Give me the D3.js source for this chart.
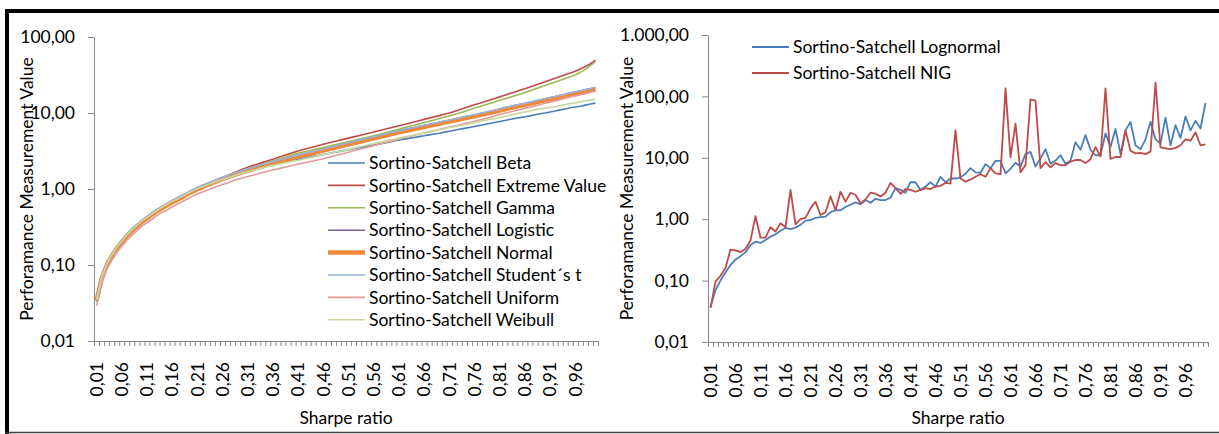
<!DOCTYPE html>
<html>
<head>
<meta charset="utf-8">
<title>Sortino-Satchell</title>
<script src="https://cdnjs.cloudflare.com/ajax/libs/d3/7.8.5/d3.min.js"></script>
<style>
  body { margin: 0; background: #fff; }
  svg text { font-family: Lato, "Open Sans", sans-serif; fill: #000; }
</style>
</head>
<body>
<script>
var categories = [0.01, 0.02, 0.03, 0.04, 0.05, 0.06, 0.07, 0.08, 0.09, 0.10,
  0.11, 0.12, 0.13, 0.14, 0.15, 0.16, 0.17, 0.18, 0.19, 0.20,
  0.21, 0.22, 0.23, 0.24, 0.25, 0.26, 0.27, 0.28, 0.29, 0.30,
  0.31, 0.32, 0.33, 0.34, 0.35, 0.36, 0.37, 0.38, 0.39, 0.40,
  0.41, 0.42, 0.43, 0.44, 0.45, 0.46, 0.47, 0.48, 0.49, 0.50,
  0.51, 0.52, 0.53, 0.54, 0.55, 0.56, 0.57, 0.58, 0.59, 0.60,
  0.61, 0.62, 0.63, 0.64, 0.65, 0.66, 0.67, 0.68, 0.69, 0.70,
  0.71, 0.72, 0.73, 0.74, 0.75, 0.76, 0.77, 0.78, 0.79, 0.80,
  0.81, 0.82, 0.83, 0.84, 0.85, 0.86, 0.87, 0.88, 0.89, 0.90,
  0.91, 0.92, 0.93, 0.94, 0.95, 0.96, 0.97, 0.98, 0.99, 1.00];

// every 5th category gets a label (0,01 0,06 ... 0,96)
var labelStep = 5;
var leftYTicks = [0.01, 0.1, 1, 10, 100];
var rightYTicks = [0.01, 0.1, 1, 10, 100, 1000];

var beta = [0.033, 0.065, 0.097, 0.129, 0.163, 0.20, 0.24, 0.28, 0.32, 0.36,
  0.41, 0.45, 0.50, 0.55, 0.60, 0.66, 0.71, 0.77, 0.84, 0.91,
  0.97, 1.04, 1.10, 1.17, 1.24, 1.32, 1.38, 1.46, 1.53, 1.61,
  1.69, 1.76, 1.83, 1.91, 1.99, 2.07, 2.14, 2.22, 2.30, 2.38,
  2.46, 2.53, 2.61, 2.69, 2.76, 2.85, 2.93, 3.02, 3.10, 3.20,
  3.29, 3.39, 3.49, 3.58, 3.69, 3.79, 3.90, 4.01, 4.12, 4.30,
  4.42, 4.53, 4.64, 4.76, 4.89, 5.01, 5.15, 5.28, 5.42, 5.60,
  5.76, 5.93, 6.10, 6.28, 6.46, 6.65, 6.85, 7.05, 7.26, 7.49,
  7.73, 7.98, 8.21, 8.45, 8.69, 8.92, 9.17, 9.48, 9.77, 10.0,
  10.3, 10.6, 11.0, 11.3, 11.7, 12.0, 12.3, 12.7, 13.1, 13.5];

var extremeValue = [0.034, 0.067, 0.10, 0.134, 0.17, 0.21, 0.25, 0.29, 0.335, 0.385,
  0.43, 0.48, 0.535, 0.59, 0.64, 0.70, 0.76, 0.82, 0.89, 0.97,
  1.04, 1.11, 1.18, 1.26, 1.34, 1.42, 1.51, 1.61, 1.71, 1.82,
  1.93, 2.03, 2.13, 2.24, 2.35, 2.47, 2.60, 2.73, 2.87, 3.01,
  3.16, 3.30, 3.43, 3.58, 3.73, 3.89, 4.03, 4.18, 4.34, 4.50,
  4.67, 4.85, 5.03, 5.22, 5.41, 5.62, 5.84, 6.07, 6.30, 6.55,
  6.80, 7.07, 7.34, 7.63, 7.93, 8.24, 8.56, 8.89, 9.24, 9.60,
  10.0, 10.5, 11.0, 11.6, 12.2, 12.8, 13.4, 14.1, 14.8, 15.5,
  16.3, 17.1, 18.0, 18.9, 19.9, 20.9, 22.0, 23.2, 24.5, 25.8,
  27.2, 28.7, 30.2, 31.8, 33.6, 35.4, 38.0, 40.8, 44.5, 49.5];

var gamma = [0.035, 0.068, 0.10, 0.133, 0.169, 0.205, 0.245, 0.286, 0.33, 0.38,
  0.42, 0.47, 0.52, 0.575, 0.63, 0.69, 0.74, 0.80, 0.87, 0.94,
  1.02, 1.08, 1.15, 1.22, 1.30, 1.38, 1.46, 1.55, 1.65, 1.75,
  1.86, 1.95, 2.04, 2.14, 2.24, 2.34, 2.45, 2.57, 2.69, 2.82,
  2.95, 3.06, 3.17, 3.28, 3.40, 3.52, 3.65, 3.78, 3.91, 4.05,
  4.20, 4.35, 4.51, 4.67, 4.84, 5.01, 5.22, 5.43, 5.65, 5.88,
  6.12, 6.37, 6.63, 6.90, 7.19, 7.48, 7.79, 8.11, 8.44, 8.79,
  9.12, 9.57, 10.0, 10.5, 11.0, 11.6, 12.1, 12.7, 13.3, 14.0,
  14.7, 15.4, 16.1, 16.9, 17.7, 18.6, 19.6, 20.7, 21.8, 23.0,
  24.2, 25.5, 26.9, 28.4, 29.9, 31.6, 34.3, 37.5, 42.0, 47.5];

var logistic = [0.035, 0.069, 0.102, 0.136, 0.171, 0.21, 0.25, 0.29, 0.34, 0.38,
  0.43, 0.48, 0.53, 0.58, 0.64, 0.69, 0.75, 0.82, 0.88, 0.95,
  1.03, 1.11, 1.17, 1.25, 1.34, 1.41, 1.49, 1.58, 1.65, 1.74,
  1.83, 1.90, 1.99, 2.09, 2.17, 2.27, 2.37, 2.45, 2.56, 2.67,
  2.78, 2.88, 2.99, 3.10, 3.22, 3.33, 3.47, 3.59, 3.74, 3.86,
  4.02, 4.17, 4.32, 4.49, 4.64, 4.83, 5.00, 5.18, 5.39, 5.58,
  5.80, 5.97, 6.18, 6.39, 6.59, 6.82, 7.04, 7.26, 7.52, 7.75,
  8.03, 8.27, 8.55, 8.84, 9.11, 9.43, 9.75, 10.1, 10.4, 10.8,
  11.2, 11.7, 12.0, 12.5, 12.9, 13.3, 13.7, 14.3, 14.7, 15.3,
  15.8, 16.3, 17.0, 17.5, 18.2, 18.8, 19.5, 20.0, 20.8, 21.5];

var normal = [0.034, 0.066, 0.098, 0.13, 0.165, 0.20, 0.24, 0.28, 0.32, 0.37,
  0.41, 0.46, 0.51, 0.56, 0.61, 0.67, 0.72, 0.78, 0.85, 0.92,
  0.99, 1.06, 1.13, 1.20, 1.28, 1.36, 1.43, 1.51, 1.59, 1.67,
  1.75, 1.83, 1.91, 2.00, 2.09, 2.18, 2.27, 2.36, 2.46, 2.56,
  2.67, 2.77, 2.87, 2.98, 3.09, 3.21, 3.33, 3.46, 3.59, 3.72,
  3.86, 4.01, 4.16, 4.31, 4.47, 4.64, 4.81, 4.99, 5.18, 5.37,
  5.57, 5.75, 5.94, 6.14, 6.34, 6.55, 6.77, 6.99, 7.22, 7.46,
  7.71, 7.96, 8.22, 8.49, 8.77, 9.06, 9.38, 9.71, 10.05, 10.4,
  10.8, 11.2, 11.6, 12.0, 12.4, 12.8, 13.2, 13.7, 14.2, 14.7,
  15.2, 15.7, 16.3, 16.9, 17.5, 18.1, 18.7, 19.3, 20.0, 20.7];

var studentT = [0.036, 0.070, 0.103, 0.137, 0.173, 0.21, 0.25, 0.30, 0.34, 0.39,
  0.43, 0.48, 0.54, 0.59, 0.64, 0.70, 0.76, 0.82, 0.89, 0.97,
  1.04, 1.11, 1.19, 1.26, 1.34, 1.43, 1.50, 1.59, 1.67, 1.75,
  1.84, 1.92, 2.01, 2.10, 2.19, 2.29, 2.38, 2.48, 2.58, 2.69,
  2.80, 2.91, 3.01, 3.13, 3.24, 3.37, 3.50, 3.63, 3.77, 3.91,
  4.05, 4.21, 4.37, 4.53, 4.69, 4.87, 5.05, 5.24, 5.44, 5.64,
  5.85, 6.04, 6.24, 6.45, 6.66, 6.88, 7.11, 7.34, 7.58, 7.83,
  8.10, 8.36, 8.63, 8.91, 9.21, 9.51, 9.85, 10.2, 10.6, 10.9,
  11.3, 11.8, 12.2, 12.6, 13.0, 13.4, 13.9, 14.4, 14.9, 15.4,
  16.0, 16.5, 17.1, 17.7, 18.4, 19.0, 19.6, 20.3, 21.0, 21.8];

var uniform = [0.029, 0.057, 0.086, 0.114, 0.145, 0.176, 0.21, 0.245, 0.28, 0.325,
  0.36, 0.40, 0.45, 0.49, 0.53, 0.58, 0.63, 0.68, 0.74, 0.80,
  0.86, 0.91, 0.97, 1.02, 1.09, 1.15, 1.20, 1.27, 1.34, 1.40,
  1.46, 1.52, 1.58, 1.65, 1.71, 1.78, 1.84, 1.91, 1.98, 2.05,
  2.13, 2.19, 2.26, 2.34, 2.42, 2.50, 2.60, 2.71, 2.82, 2.93,
  3.05, 3.18, 3.30, 3.43, 3.57, 3.72, 3.86, 4.02, 4.19, 4.36,
  4.55, 4.72, 4.89, 5.07, 5.25, 5.44, 5.64, 5.84, 6.06, 6.28,
  6.51, 6.75, 7.00, 7.25, 7.52, 7.80, 8.10, 8.41, 8.73, 9.15,
  9.53, 9.91, 10.3, 10.7, 11.1, 11.5, 11.9, 12.4, 12.9, 13.4,
  13.9, 14.4, 15.0, 15.6, 16.2, 16.8, 17.4, 18.0, 18.7, 19.4];

var weibull = [0.035, 0.068, 0.101, 0.134, 0.17, 0.206, 0.247, 0.288, 0.33, 0.38,
  0.42, 0.47, 0.52, 0.58, 0.63, 0.69, 0.74, 0.80, 0.87, 0.94,
  1.01, 1.07, 1.14, 1.20, 1.27, 1.34, 1.40, 1.47, 1.55, 1.63,
  1.69, 1.76, 1.83, 1.90, 1.97, 2.04, 2.11, 2.18, 2.25, 2.33,
  2.39, 2.47, 2.55, 2.64, 2.73, 2.83, 2.92, 3.03, 3.12, 3.20,
  3.32, 3.44, 3.57, 3.69, 3.82, 3.96, 4.10, 4.25, 4.40, 4.51,
  4.67, 4.82, 4.98, 5.14, 5.30, 5.47, 5.65, 5.83, 6.02, 6.19,
  6.39, 6.59, 6.80, 7.02, 7.24, 7.47, 7.73, 7.99, 8.26, 8.42,
  8.73, 9.04, 9.36, 9.67, 9.98, 10.3, 10.6, 11.0, 11.3, 11.5,
  11.8, 12.1, 12.5, 12.9, 13.3, 13.6, 14.0, 14.4, 14.8, 15.2];

var lognormal = [0.037, 0.07, 0.10, 0.135, 0.18, 0.22, 0.25, 0.29, 0.38, 0.43,
  0.41, 0.46, 0.52, 0.57, 0.65, 0.72, 0.69, 0.73, 0.81, 0.95,
  0.97, 1.05, 1.08, 1.10, 1.30, 1.40, 1.40, 1.58, 1.72, 1.88,
  1.75, 2.05, 1.85, 2.15, 2.05, 2.05, 2.25, 3.2, 3.0, 2.7,
  4.0, 4.0, 3.0, 3.4, 4.0, 3.4, 4.9, 4.0, 4.6, 4.6,
  4.8, 5.5, 6.8, 5.8, 5.7, 7.9, 6.8, 8.9, 8.9, 5.6,
  6.6, 8.3, 7.2, 11.5, 12.5, 7.2, 9.8, 13.8, 8.0, 9.0,
  11.0, 8.0, 9.0, 18, 13.5, 23.5, 13.5, 11, 11, 25,
  15, 29.5, 11.5, 28, 38.5, 16, 13.8, 20, 38.5, 20,
  17, 45, 16, 34, 21, 47, 28, 40, 30, 78];

var nig = [0.036, 0.096, 0.12, 0.16, 0.32, 0.31, 0.29, 0.33, 0.45, 1.12,
  0.50, 0.50, 0.74, 0.63, 0.86, 0.74, 3.0, 0.83, 1.0, 1.05,
  1.5, 1.93, 1.17, 1.3, 2.35, 1.4, 2.8, 1.93, 2.7, 2.5,
  1.8, 2.1, 2.7, 2.6, 2.35, 2.7, 3.9, 3.2, 2.6, 3.1,
  3.0, 2.8, 3.0, 3.2, 3.1, 3.4, 3.5, 3.9, 3.8, 28,
  4.6, 4.1, 4.4, 4.9, 5.4, 4.9, 6.8, 5.6, 5.4, 135,
  10.2, 36, 5.8, 7.6, 89, 85, 6.8, 8.5, 7.0, 8.2,
  7.6, 7.6, 8.7, 9.2, 9.2, 8.2, 9.5, 15, 10.5, 135,
  9.6, 10.3, 10.3, 28, 13, 11.8, 12, 11.5, 12.6, 167,
  14.8, 14.3, 13.8, 14.5, 16, 20, 19, 26, 16, 16.5];

var leftSeries = [
  { name: "Sortino-Satchell Beta", values: beta, color: "#4a7ebb", width: 1.6 },
  { name: "Sortino-Satchell Extreme Value", values: extremeValue, color: "#be4b48", width: 1.6 },
  { name: "Sortino-Satchell Gamma", values: gamma, color: "#98b954", width: 1.6 },
  { name: "Sortino-Satchell Logistic", values: logistic, color: "#7d60a0", width: 1.6 },
  { name: "Sortino-Satchell Normal", values: normal, color: "#f0883c", width: 4.5 },
  { name: "Sortino-Satchell Student\u00b4s t", values: studentT, color: "#98b2da", width: 1.6 },
  { name: "Sortino-Satchell Uniform", values: uniform, color: "#e39a98", width: 1.6 },
  { name: "Sortino-Satchell Weibull", values: weibull, color: "#c5d9a0", width: 1.6 }
];
var rightSeries = [
  { name: "Sortino-Satchell Lognormal", values: lognormal, color: "#4a7ebb", width: 1.8 },
  { name: "Sortino-Satchell NIG", values: nig, color: "#be4b48", width: 1.8 }
];

var W = 1219, H = 434;
var fontSize = 17.5;
var svg = d3.select("body").append("svg").attr("width", W).attr("height", H);

var loc = d3.formatLocale({ decimal: ",", thousands: ".", grouping: [3], currency: ["", ""] });
var fmtY = loc.format(",.2f");
var fmtX = loc.format(".2f");
var axisColor = "#868686";

function drawPanel(p) {
  var g = svg.append("g");
  var x = d3.scaleBand().domain(categories).range([p.x0, p.x1]);
  var xEdge = d3.scaleLinear().domain([0, categories.length]).range([p.x0, p.x1]);
  var y = d3.scaleLog().domain(p.yDomain).range([p.yBottom, p.yTop]);
  var cx = function(c) { return x(c) + x.bandwidth() / 2; };

  // y axis
  var ya = g.append("g")
      .attr("transform", "translate(" + p.x0 + ",0)")
      .call(d3.axisLeft(y).tickValues(p.yTicks).tickFormat(fmtY)
        .tickSize(6).tickSizeOuter(0).tickPadding(13));
  ya.selectAll("path, line").attr("stroke", axisColor);
  ya.selectAll("text").attr("font-size", fontSize).attr("font-family", null).attr("fill", "#000");

  // x axis: tick marks between categories
  var xa = g.append("g")
      .attr("transform", "translate(0," + p.yBottom + ")")
      .call(d3.axisBottom(xEdge).tickValues(d3.range(categories.length + 1))
        .tickFormat("").tickSize(5).tickSizeOuter(0));
  xa.selectAll("path, line").attr("stroke", axisColor);

  g.append("g").selectAll("text")
    .data(categories.filter(function(c, i) { return i % labelStep === 0; }))
    .enter().append("text")
    .attr("transform", function(c) { return "translate(" + cx(c) + "," + (p.yBottom + 21) + ") rotate(-90)"; })
    .attr("text-anchor", "end")
    .attr("dy", "0.36em")
    .attr("font-size", fontSize)
    .text(fmtX);

  // lines
  var line = d3.line()
    .x(function(d, i) { return cx(categories[i]); })
    .y(function(d) { return y(d); });
  p.series.forEach(function(s) {
    g.append("path")
      .attr("d", line(s.values))
      .attr("fill", "none")
      .attr("stroke", s.color)
      .attr("stroke-width", s.width)
      .attr("stroke-linejoin", "round");
  });

  // titles
  g.append("text")
    .attr("transform", "translate(" + p.yTitleX + "," + ((p.yTop + p.yBottom) / 2) + ") rotate(-90)")
    .attr("text-anchor", "middle").attr("dy", "0.35em").attr("font-size", fontSize)
    .text("Perforamance Measurement Value");
  g.append("text")
    .attr("x", (p.x0 + p.x1) / 2).attr("y", 418)
    .attr("text-anchor", "middle").attr("dy", "0.35em").attr("font-size", fontSize)
    .text("Sharpe ratio");

  // legend
  var lg = g.append("g");
  p.series.forEach(function(s, i) {
    var ly = p.legendY + i * p.legendStep;
    lg.append("line")
      .attr("x1", p.legendX).attr("x2", p.legendX + 37)
      .attr("y1", ly).attr("y2", ly)
      .attr("stroke", s.color).attr("stroke-width", s.width);
    lg.append("text")
      .attr("x", p.legendX + 41).attr("y", ly).attr("dy", "0.35em")
      .attr("font-size", fontSize)
      .text(s.name);
  });
}

drawPanel({
  x0: 94, x1: 598, yTop: 37, yBottom: 341, yDomain: [0.01, 100], yTicks: leftYTicks,
  yTitleX: 27, series: leftSeries, legendX: 328, legendY: 163, legendStep: 22.4
});
drawPanel({
  x0: 708, x1: 1208, yTop: 35, yBottom: 342, yDomain: [0.01, 1000], yTicks: rightYTicks,
  yTitleX: 627, series: rightSeries, legendX: 752, legendY: 47, legendStep: 26
});

// frame
svg.append("line").attr("x1", 5).attr("x2", W).attr("y1", 11).attr("y2", 11)
  .attr("stroke", "#000").attr("stroke-width", 4);
svg.append("line").attr("x1", 7).attr("x2", 7).attr("y1", 9).attr("y2", H)
  .attr("stroke", "#000").attr("stroke-width", 4);
svg.append("line").attr("x1", 5).attr("x2", W).attr("y1", 432.5).attr("y2", 432.5)
  .attr("stroke", "#404040").attr("stroke-width", 1.5);
</script>
</body>
</html>
